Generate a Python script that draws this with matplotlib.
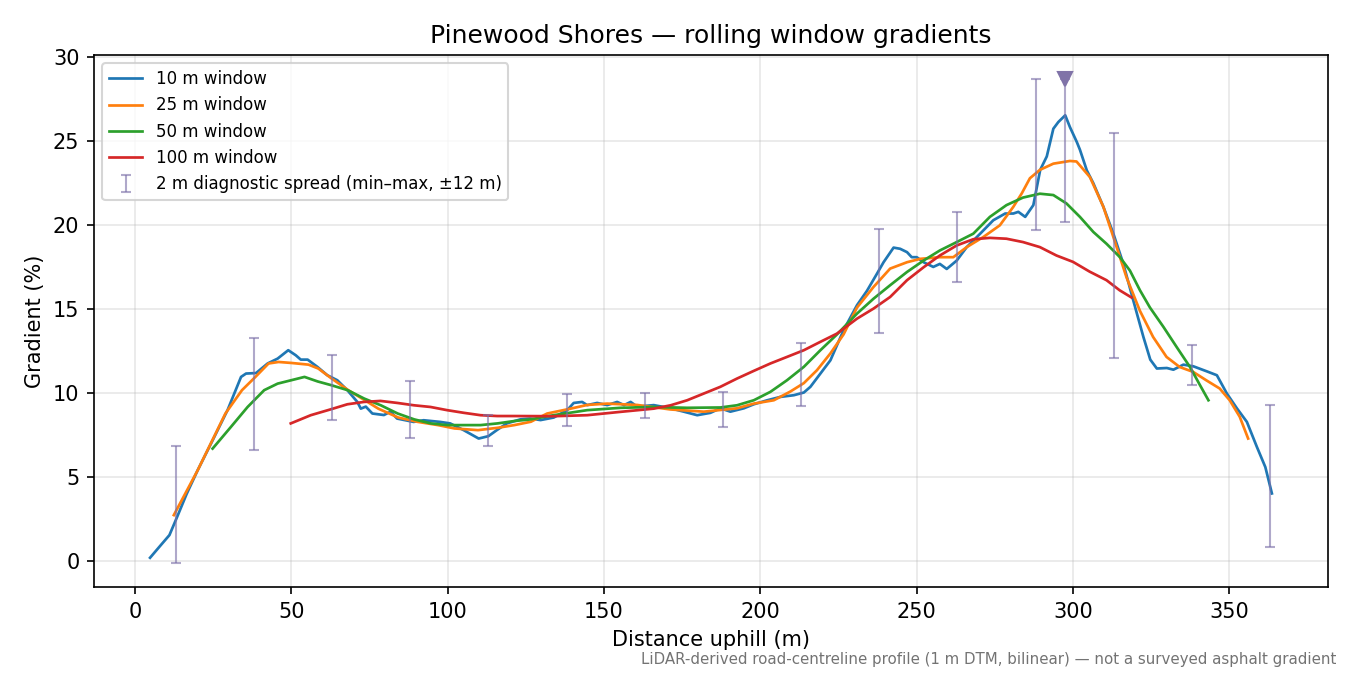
import numpy as np
import matplotlib
matplotlib.use('Agg')
import matplotlib.pyplot as plt

# 10 m window
x10 = [4.8, 8.0, 11.0, 13.7, 16.5, 20.0, 24.3, 29.6, 33.9, 35.5, 38.7, 42.4, 45.6, 49.0, 51.4, 53.0, 55.2,
       58.3, 61.5, 64.7, 67.9, 71.1, 72.2, 73.8, 75.9, 79.6, 81.7, 83.8, 89.1, 92.3, 97.6, 100.8,
       105.1, 109.9, 113.0, 115.7, 118.9, 123.2, 126.3, 129.7, 133.9, 138.2, 140.3, 143.0, 144.6,
       147.8, 151.0, 154.2, 156.4, 158.5, 160.6, 165.9, 171.3, 175.5, 179.8, 184.0, 187.2, 190.4,
       194.7, 197.9, 202.2, 206.4, 210.7, 213.9, 216.0, 219.2, 222.4, 226.6, 230.9, 234.1, 237.3,
       239.4, 242.6, 244.7, 246.9, 248.4, 250.0, 252.2, 255.3, 257.4, 259.6, 262.8, 266.0, 270.3,
       274.5, 278.3, 280.9, 282.5, 284.7, 287.3, 289.5, 291.6, 293.7, 295.3, 297.5, 299.0, 301.2,
       302.2, 304.4, 306.5, 309.7, 312.9, 316.1, 319.3, 322.5, 324.7, 326.8, 330.0, 332.1, 335.3,
       338.5, 342.8, 346.0, 349.2, 352.4, 355.6, 358.8, 361.5, 363.6]
g10 = [0.2, 0.9, 1.55, 2.74, 4.0, 5.4, 7.0, 9.0, 10.97, 11.17, 11.2, 11.77, 12.06, 12.56, 12.26, 12.0, 12.0,
       11.57, 11.07, 10.77, 10.18, 9.48, 9.08, 9.2, 8.79, 8.7, 8.9, 8.49, 8.29, 8.39, 8.29, 8.2,
       7.8, 7.3, 7.44, 7.8, 8.2, 8.44, 8.49, 8.4, 8.55, 8.99, 9.42, 9.48, 9.29,
       9.42, 9.29, 9.48, 9.29, 9.48, 9.2, 9.29, 9.1, 8.9, 8.69, 8.83, 9.1, 8.9,
       9.1, 9.34, 9.58, 9.78, 9.88, 10.04, 10.38, 11.17, 11.96, 13.75, 15.24, 16.1, 17.12,
       17.8, 18.67, 18.6, 18.4, 18.1, 18.1, 17.8, 17.52, 17.7, 17.4, 17.9, 18.7, 19.5,
       20.3, 20.7, 20.7, 20.8, 20.5, 21.2, 23.3, 24.1, 25.75, 26.15, 26.55, 25.85, 24.96,
       24.5, 23.27, 22.5, 21.1, 19.5, 17.7, 15.5, 13.35, 12.0, 11.47, 11.5, 11.4, 11.7,
       11.6, 11.3, 11.07, 9.98, 9.1, 8.29, 6.8, 5.6, 4.03]

# 25 m window
x25 = [12.4, 20.0, 28.9, 34.2, 38.5, 42.7, 45.9, 50.1, 55.5, 58.6, 62.9, 68.2, 73.5, 77.8, 84.2,
       90.5, 96.9, 102.2, 109.7, 116.0, 121.3, 126.6, 131.8, 139.3, 144.6, 151.0, 160.6, 171.3,
       181.9, 187.2, 192.5, 197.9, 204.3, 209.6, 213.9, 218.1, 222.4, 226.6, 230.9, 236.2, 241.5,
       246.9, 251.1, 257.4, 261.7, 266.0, 271.3, 276.6, 280.9, 283.6, 286.2, 289.4, 293.7, 299.0,
       301.1, 305.4, 309.7, 312.9, 317.1, 321.4, 325.6, 329.9, 334.1, 338.4, 342.6, 346.9, 350.1,
       353.3, 356.0]
g25 = [2.74, 5.4, 8.79, 10.18, 10.97, 11.77, 11.86, 11.8, 11.7, 11.47, 10.87, 10.18, 9.58, 9.08, 8.55,
       8.29, 8.1, 7.9, 7.8, 7.94, 8.1, 8.3, 8.79, 9.08, 9.3, 9.38, 9.3, 9.03,
       8.9, 9.0, 9.1, 9.38, 9.58, 10.1, 10.6, 11.37, 12.37, 13.5, 15.1, 16.33, 17.42,
       17.8, 18.0, 18.1, 18.1, 18.7, 19.3, 20.0, 21.1, 21.9, 22.8, 23.3, 23.67, 23.83,
       23.8, 22.87, 21.1, 19.3, 16.9, 14.9, 13.35, 12.16, 11.56, 11.27, 10.77, 10.28, 9.58,
       8.6, 7.3]

# 50 m window
x50 = [24.8, 30.7, 36.0, 41.3, 45.6, 49.9, 54.2, 58.4, 62.7, 68.0, 73.3, 78.6, 84.0, 89.3, 94.6,
       99.9, 105.2, 110.5, 115.9, 121.2, 126.5, 133.9, 144.6, 155.3, 165.9, 176.6, 187.2, 192.5,
       197.9, 203.2, 208.5, 213.9, 219.2, 224.5, 230.9, 236.2, 241.5, 246.9, 252.2, 257.4, 262.8,
       268.1, 273.4, 278.7, 284.0, 289.4, 293.7, 297.9, 302.2, 306.5, 310.7, 315.0, 318.2, 321.4,
       324.6, 328.9, 333.1, 337.4, 340.6, 343.3]
g50 = [6.7, 8.0, 9.18, 10.18, 10.57, 10.77, 10.97, 10.7, 10.48, 10.18, 9.68, 9.28, 8.79, 8.44, 8.2,
       8.1, 8.1, 8.1, 8.2, 8.34, 8.44, 8.69, 8.99, 9.13, 9.18, 9.13, 9.15, 9.28,
       9.58, 10.08, 10.77, 11.57, 12.56, 13.5, 14.74, 15.63, 16.43, 17.22, 17.9, 18.5, 19.0,
       19.5, 20.5, 21.2, 21.65, 21.88, 21.8, 21.3, 20.5, 19.6, 18.9, 18.1, 17.3, 16.13,
       15.1, 13.95, 12.76, 11.56, 10.48, 9.58]

# 100 m window
x100 = [49.8, 56.2, 62.6, 67.9, 73.2, 78.5, 83.9, 89.2, 94.5, 99.8, 105.2, 110.5, 115.8, 121.2,
        133.9, 144.6, 155.3, 165.9, 171.3, 176.6, 181.9, 187.2, 192.5, 197.9, 203.2, 208.5, 213.9,
        219.2, 224.5, 230.9, 236.2, 241.5, 246.9, 252.2, 257.4, 262.8, 268.1, 273.4, 278.7, 284.0,
        289.4, 294.7, 300.0, 305.3, 310.7, 314.9, 318.7]
g100 = [8.2, 8.69, 9.04, 9.34, 9.48, 9.54, 9.42, 9.28, 9.18, 8.99, 8.83, 8.69, 8.64, 8.64,
        8.63, 8.69, 8.89, 9.08, 9.28, 9.58, 9.98, 10.38, 10.87, 11.33, 11.77, 12.16, 12.56,
        13.06, 13.55, 14.44, 15.04, 15.73, 16.73, 17.5, 18.2, 18.8, 19.17, 19.25, 19.2, 19.0,
        18.7, 18.2, 17.82, 17.24, 16.73, 16.13, 15.7]

# 2 m diagnostic spread (min/max within +-12 m)
spread_x = [13, 38, 63, 88, 113, 138, 163, 188, 213, 238, 263, 288, 297.5, 313, 338, 363]
spread_lo = [-0.1, 6.6, 8.4, 7.35, 6.86, 8.04, 8.5, 7.98, 9.25, 13.6, 16.6, 19.7, 20.2, 12.1, 10.5, 0.83]
spread_hi = [6.86, 13.3, 12.3, 10.7, 8.7, 9.96, 10.0, 10.06, 12.96, 19.8, 20.8, 28.7, 28.7, 25.5, 12.9, 9.3]

peak_x = 297.5
peak_y = 28.7

fig, ax = plt.subplots(figsize=(9, 4.5), dpi=150)
fig.subplots_adjust(left=0.0696, right=0.9837, top=0.9185, bottom=0.1304)

ax.plot(x10, g10, color='tab:blue', lw=1.3, label='10 m window')
ax.plot(x25, g25, color='tab:orange', lw=1.3, label='25 m window')
ax.plot(x50, g50, color='tab:green', lw=1.3, label='50 m window')
ax.plot(x100, g100, color='tab:red', lw=1.3, label='100 m window')

lo = np.array(spread_lo)
hi = np.array(spread_hi)
mid = (lo + hi) / 2
ax.errorbar(spread_x, mid, yerr=[mid - lo, hi - mid], fmt='none', ecolor='#7b6ea8',
            alpha=0.6, elinewidth=1, capsize=2.5, label='2 m diagnostic spread (min\u2013max, \u00b112 m)')
ax.plot([peak_x], [peak_y], marker='v', color='#8073a8', markersize=7, linestyle='none')

ax.set_title('Pinewood Shores \u2014 rolling window gradients', fontsize=12)
ax.set_xlabel('Distance uphill (m)')
ax.set_ylabel('Gradient (%)')
ax.grid(True, alpha=0.3)
ax.legend(loc='upper left', fontsize=8)

fig.text(0.99, 0.012, 'LiDAR-derived road-centreline profile (1 m DTM, bilinear) \u2014 not a surveyed asphalt gradient',
         ha='right', va='bottom', fontsize=7.2, color='0.45')

fig.savefig('out.png')
